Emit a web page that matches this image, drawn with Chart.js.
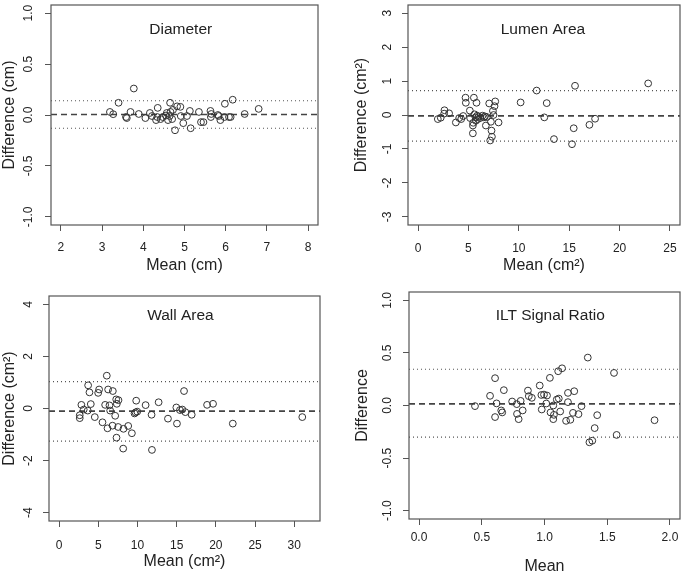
<!DOCTYPE html>
<html>
<head>
<meta charset="utf-8">
<script src="https://cdn.jsdelivr.net/npm/chart.js@4.4.0/dist/chart.umd.min.js"></script>
<style>
  html, body { margin: 0; padding: 0; background: #fff; overflow: hidden; }
  body { width: 685px; height: 571px; position: relative; }
  .panel { position: absolute; }
</style>
</head>
<body>
<div class="panel" style="left:0;top:0;width:342px;height:285px"><canvas id="diamChart"></canvas></div>
<div class="panel" style="left:342px;top:0;width:343px;height:285px"><canvas id="lumenChart"></canvas></div>
<div class="panel" style="left:0;top:285px;width:342px;height:290px"><canvas id="wallChart"></canvas></div>
<div class="panel" style="left:342px;top:285px;width:343px;height:295px"><canvas id="iltChart"></canvas></div>
<script>
// Diameter (cm)
const diamMean = [3.19,3.27,3.40,3.58,3.60,3.69,3.77,3.89,4.05,4.16,4.21,4.31,4.34,4.35,4.42,4.47,4.55,4.57,4.60,4.64,4.65,4.66,4.70,4.72,4.77,4.82,4.90,4.91,4.97,5.06,5.13,5.15,5.35,5.40,5.46,5.63,5.64,5.65,5.81,5.83,5.87,5.97,5.98,6.08,6.12,6.17,6.46,6.80];
const diamDiff = [0.03,0.008,0.12,-0.02,-0.03,0.03,0.26,0.01,-0.03,0.02,-0.01,-0.05,-0.02,0.07,-0.04,-0.02,-0.005,0.02,-0.05,-0.01,0.12,0.03,-0.04,0.05,-0.15,0.085,0.08,-0.01,-0.08,-0.01,0.04,-0.13,0.03,-0.07,-0.07,0.04,-0.02,0.01,0.00,-0.01,-0.05,-0.02,0.11,-0.02,-0.02,0.15,0.01,0.06];
const diamLines = [0.005, 0.14, -0.13]; // bias, upper, lower
const diamXTicks = [2, 3, 4, 5, 6, 7, 8];
const diamYTicks = [-1, -0.5, 0, 0.5, 1];

// Lumen area (cm2)
const lumenMean = [1.96,2.25,2.62,2.59,3.08,3.75,4.08,4.28,4.48,4.71,4.74,5.14,5.17,5.44,5.44,5.47,5.54,5.60,5.70,5.74,5.80,5.87,5.94,6.00,6.17,6.40,6.53,6.63,6.73,6.83,7.06,7.16,7.23,7.29,7.33,7.43,7.49,7.59,7.66,7.99,10.18,11.77,12.53,12.77,13.49,15.28,15.45,15.58,17.01,17.57,22.84];
const lumenDiff = [-0.12,-0.08,0.14,0.04,0.05,-0.22,-0.09,-0.12,-0.03,0.51,0.36,0.13,-0.09,-0.54,-0.31,-0.23,0.51,0.02,-0.07,-0.17,0.36,-0.02,-0.12,-0.05,-0.09,-0.02,-0.07,-0.04,-0.31,-0.06,0.34,-0.75,-0.20,-0.46,-0.64,0.12,0.00,0.26,0.40,-0.22,0.37,0.72,-0.07,0.35,-0.71,-0.86,-0.39,0.86,-0.29,-0.11,0.93];
const lumenLines = [-0.025, 0.72, -0.77];
const lumenXTicks = [0, 5, 10, 15, 20, 25];
const lumenYTicks = [-3, -2, -1, 0, 1, 2, 3];

// Wall area (cm2)
const wallMean = [2.64,2.64,2.85,3.15,3.66,3.71,3.88,4.05,4.56,4.99,5.11,5.54,5.88,6.09,6.18,6.26,6.43,6.52,6.82,6.86,7.16,7.29,7.33,7.37,7.58,7.54,8.18,8.22,8.82,9.29,9.63,9.76,9.84,9.97,11.04,11.80,11.85,12.70,13.89,14.96,15.04,15.42,15.72,15.94,16.11,16.92,18.88,19.64,22.16,31.02];
const wallDiff = [-0.26,-0.37,0.14,-0.04,-0.08,0.89,0.62,0.17,-0.33,0.60,0.73,-0.53,0.14,1.26,-0.76,0.73,0.12,-0.08,-0.66,0.67,-0.28,0.35,-1.12,0.18,0.32,-0.71,-1.54,-0.78,-0.67,-0.95,-0.19,-0.15,0.30,-0.12,0.13,-0.24,-1.59,0.24,-0.39,0.04,-0.58,-0.06,-0.04,0.67,-0.14,-0.24,0.14,0.18,-0.58,-0.33];
const wallLines = [-0.10, 1.03, -1.25];
const wallXTicks = [0, 5, 10, 15, 20, 25, 30];
const wallYTicks = [-4, -2, 0, 2, 4];

// ILT signal ratio
const iltMean = [0.446,0.566,0.606,0.606,0.618,0.655,0.663,0.676,0.742,0.779,0.781,0.794,0.81,0.826,0.868,0.875,0.899,0.962,0.975,0.978,0.996,1.014,1.02,1.043,1.048,1.07,1.07,1.075,1.098,1.109,1.114,1.125,1.14,1.172,1.187,1.187,1.206,1.227,1.237,1.271,1.295,1.345,1.358,1.381,1.40,1.42,1.554,1.575,1.877];
const iltDiff = [-0.006,0.092,0.26,-0.11,0.02,-0.047,-0.066,0.146,0.038,0.013,-0.08,-0.13,0.044,-0.047,0.142,0.089,0.073,0.19,0.10,-0.038,0.104,0.019,0.095,0.263,-0.066,0.0,-0.13,-0.089,0.057,0.326,0.066,-0.057,0.354,-0.146,0.12,0.032,-0.136,-0.07,0.136,-0.082,-0.006,0.456,-0.35,-0.335,-0.215,-0.092,0.31,-0.28,-0.14];
const iltLines = [0.015, 0.345, -0.30];
const iltXTicks = [0, 0.5, 1, 1.5, 2];
const iltYTicks = [-1, -0.5, 0, 0.5, 1];

const FONT = "'Liberation Sans', Arial, Helvetica, sans-serif";
const INK = '#222';

// frame around plot region + panel heading inside it
const framePlugin = {
    id: 'frame',
    afterDraw(chart, args, opts) {
        const a = chart.chartArea;
        const ctx = chart.ctx;
        ctx.save();
        ctx.strokeStyle = '#555';
        ctx.lineWidth = 1.2;
        ctx.strokeRect(a.left, a.top, a.right - a.left, a.bottom - a.top);
        ctx.fillStyle = INK;
        ctx.font = '15.5px ' + FONT;
        ctx.textAlign = 'center';
        ctx.textBaseline = 'middle';
        ctx.fillText(opts.text, a.left + opts.fx * (a.right - a.left), a.top + opts.dy);
        ctx.restore();
    }
};

function makePanel(id, p) {
    const points = p.xs.map((x, i) => ({ x: x, y: p.ys[i] }));
    const hline = (v) => [{ x: p.xMin, y: v }, { x: p.xMax, y: v }];
    const fmt = (d) => (v) => Number(v).toFixed(d);
    const ctx = document.getElementById(id).getContext('2d');
    new Chart(ctx, {
        type: 'scatter',
        data: {
            datasets: [{
                data: points,
                pointStyle: 'circle',
                pointRadius: 3.4,
                borderWidth: 1,
                borderColor: '#333',
                backgroundColor: 'rgba(0,0,0,0)'
            }, {
                type: 'line', data: hline(p.lines[0]), showLine: true,
                borderColor: '#444', borderWidth: 1.6, borderDash: [6, 4], pointRadius: 0
            }, {
                type: 'line', data: hline(p.lines[1]), showLine: true,
                borderColor: '#555', borderWidth: 1.2, borderDash: [1, 3], pointRadius: 0
            }, {
                type: 'line', data: hline(p.lines[2]), showLine: true,
                borderColor: '#555', borderWidth: 1.2, borderDash: [1, 3], pointRadius: 0
            }]
        },
        options: {
            responsive: true,
            maintainAspectRatio: false,
            animation: false,
            layout: { padding: p.pad },
            scales: {
                x: {
                    type: 'linear', min: p.xMin, max: p.xMax,
                    afterBuildTicks: (s) => { s.ticks = p.xTicks.map(v => ({ value: v })); },
                    afterFit: (s) => { s.height = p.xH; s.paddingLeft = 0; s.paddingRight = 0; },
                    grid: { drawOnChartArea: false, tickLength: 6, color: '#555' },
                    border: { display: false },
                    ticks: { color: INK, font: { family: FONT, size: 12 }, padding: p.xTickPad, maxRotation: 0, callback: fmt(p.xDec) },
                    title: { display: true, text: p.xTitle, color: INK, font: { family: FONT, size: 16 }, padding: { top: 0, bottom: p.xTitlePad } }
                },
                y: {
                    type: 'linear', min: p.yMin, max: p.yMax,
                    afterBuildTicks: (s) => { s.ticks = p.yTicks.map(v => ({ value: v })); },
                    afterFit: (s) => { s.width = p.yW; s.paddingTop = 0; s.paddingBottom = 0; },
                    grid: { drawOnChartArea: false, tickLength: 6, color: '#555' },
                    border: { display: false },
                    ticks: { color: INK, font: { family: FONT, size: 12 }, padding: p.yTickPad, minRotation: 90, maxRotation: 90, crossAlign: 'center', callback: fmt(p.yDec) },
                    title: { display: true, text: p.yTitle, color: INK, font: { family: FONT, size: 16 }, padding: { top: p.yTitlePad, bottom: 0 } }
                }
            },
            plugins: {
                legend: { display: false },
                tooltip: { enabled: false },
                frame: { text: p.title, fx: p.titleFx, dy: p.titleDy }
            }
        },
        plugins: [framePlugin]
    });
}

function initializeCharts() {
    makePanel('diamChart', {
        xs: diamMean, ys: diamDiff, lines: diamLines, xTicks: diamXTicks, yTicks: diamYTicks,
        xMin: 1.76, xMax: 8.24, yMin: -1.08, yMax: 1.08, xDec: 0, yDec: 1,
        xTitle: 'Mean (cm)', yTitle: 'Difference (cm)', title: 'Diameter', titleFx: 0.486, titleDy: 25,
        pad: { left: 0, top: 3, right: 24, bottom: 0 }, yW: 51, xH: 60,
        xTickPad: 9, yTickPad: 5.5, xTitlePad: 10, yTitlePad: 0
    });
    makePanel('lumenChart', {
        xs: lumenMean, ys: lumenDiff, lines: lumenLines, xTicks: lumenXTicks, yTicks: lumenYTicks,
        xMin: -1, xMax: 26, yMin: -3.24, yMax: 3.24, xDec: 0, yDec: 0,
        xTitle: 'Mean (cm²)', yTitle: 'Difference (cm²)', title: 'Lumen Area', titleFx: 0.496, titleDy: 25,
        pad: { left: 0, top: 3, right: 5, bottom: 0 }, yW: 66, xH: 60,
        xTickPad: 10, yTickPad: 8.5, xTitlePad: 10, yTitlePad: 10
    });
    makePanel('wallChart', {
        xs: wallMean, ys: wallDiff, lines: wallLines, xTicks: wallXTicks, yTicks: wallYTicks,
        xMin: -1.28, xMax: 33.28, yMin: -4.32, yMax: 4.32, xDec: 0, yDec: 0,
        xTitle: 'Mean (cm²)', yTitle: 'Difference (cm²)', title: 'Wall Area', titleFx: 0.485, titleDy: 20,
        pad: { left: 0, top: 11, right: 22, bottom: 0 }, yW: 49, xH: 54,
        xTickPad: 11, yTickPad: 8.5, xTitlePad: 4, yTitlePad: 0
    });
    makePanel('iltChart', {
        xs: iltMean, ys: iltDiff, lines: iltLines, xTicks: iltXTicks, yTicks: iltYTicks,
        xMin: -0.08, xMax: 2.08, yMin: -1.08, yMax: 1.08, xDec: 1, yDec: 1,
        xTitle: 'Mean', yTitle: 'Difference', title: 'ILT Signal Ratio', titleFx: 0.521, titleDy: 24,
        pad: { left: 0, top: 7, right: 2, bottom: 0 }, yW: 67, xH: 61,
        xTickPad: 5, yTickPad: 4.5, xTitlePad: 4, yTitlePad: 11
    });
}

if (typeof window !== "undefined") {
    if (document.readyState === "loading") {
        document.addEventListener("DOMContentLoaded", initializeCharts);
    } else {
        initializeCharts();
    }
}
</script>
</body>
</html>
